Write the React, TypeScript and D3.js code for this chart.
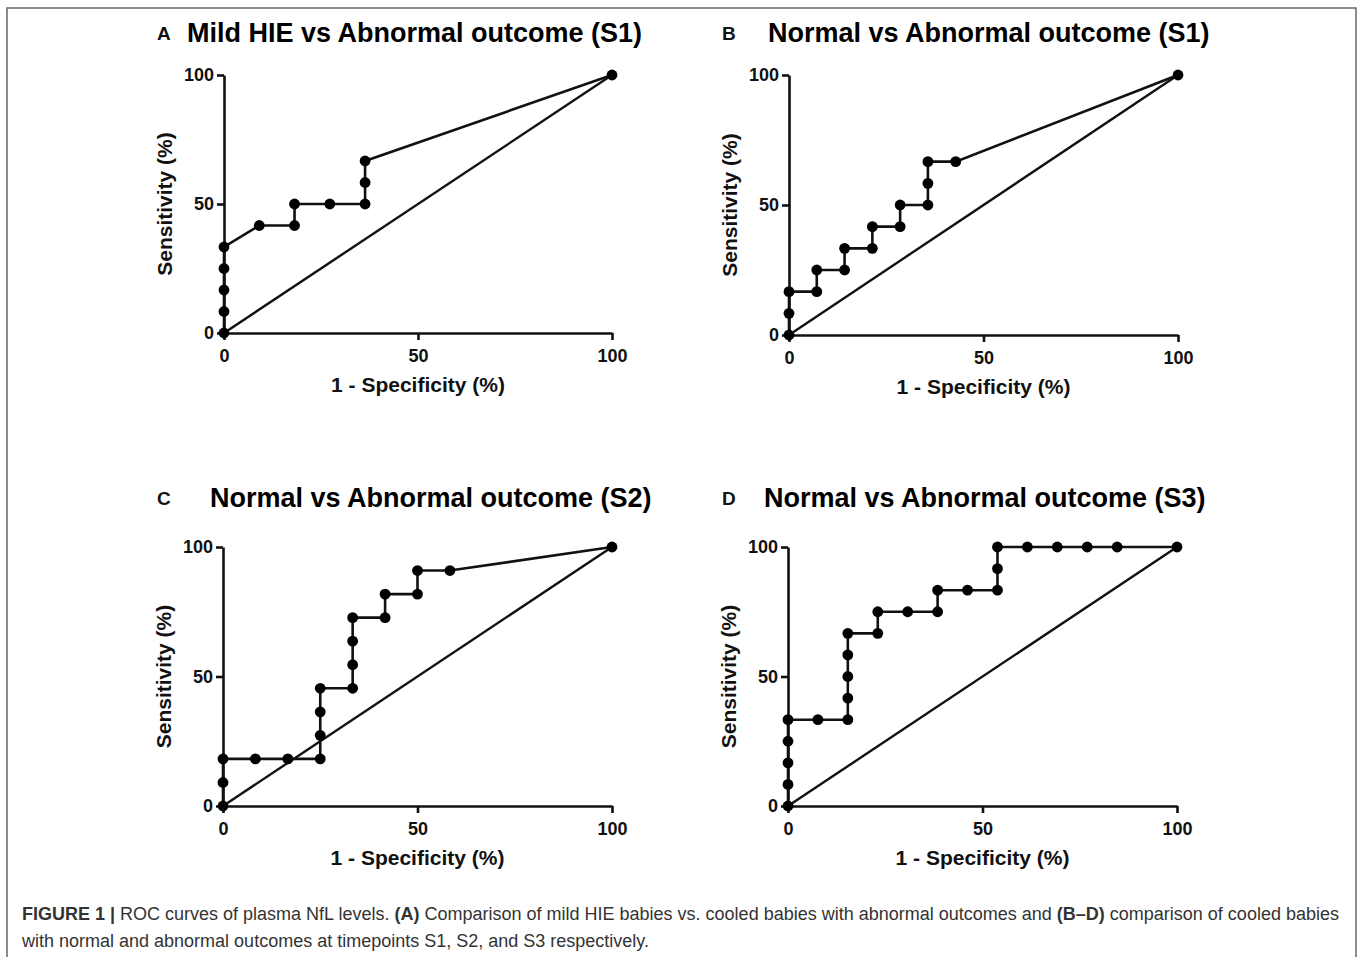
import React, { useRef, useEffect } from "react";
import * as d3 from "d3";

// 1 - specificity (%) and sensitivity (%) for each ROC curve
const fprA = [0, 0, 0, 0, 0, 9.09, 18.18, 18.18, 27.27, 36.36, 36.36, 36.36, 100];
const tprA = [0, 8.33, 16.67, 25, 33.33, 41.67, 41.67, 50, 50, 50, 58.33, 66.67, 100];

const fprB = [0, 0, 0, 7.14, 7.14, 14.29, 14.29, 21.43, 21.43, 28.57, 28.57, 35.71, 35.71, 35.71, 42.86, 100];
const tprB = [0, 8.33, 16.67, 16.67, 25, 25, 33.33, 33.33, 41.67, 41.67, 50, 50, 58.33, 66.67, 66.67, 100];

const fprC = [0, 0, 0, 8.33, 16.67, 25, 25, 25, 25, 33.33, 33.33, 33.33, 33.33, 41.67, 41.67, 50, 50, 58.33, 100];
const tprC = [0, 9.09, 18.18, 18.18, 18.18, 18.18, 27.27, 36.36, 45.45, 45.45, 54.55, 63.64, 72.73, 72.73, 81.82, 81.82, 90.91, 90.91, 100];

const fprD = [0, 0, 0, 0, 0, 7.69, 15.38, 15.38, 15.38, 15.38, 15.38, 23.08, 23.08, 30.77, 38.46, 38.46, 46.15, 53.85, 53.85, 53.85, 61.54, 69.23, 76.92, 84.62, 100];
const tprD = [0, 8.33, 16.67, 25, 33.33, 33.33, 33.33, 41.67, 50, 58.33, 66.67, 66.67, 75, 75, 75, 83.33, 83.33, 83.33, 91.67, 100, 100, 100, 100, 100, 100];

const letters = ["A", "B", "C", "D"];
const titles = [
  "Mild HIE vs Abnormal outcome (S1)",
  "Normal vs Abnormal outcome (S1)",
  "Normal vs Abnormal outcome (S2)",
  "Normal vs Abnormal outcome (S3)",
];
const ticks = [0, 50, 100];

const FONT = "'Liberation Sans', Arial, Helvetica, sans-serif";

// pixel frame of each panel: x of 0 / 100, y of 0 / 100, title placement
const layout = [
  { x0: 224, x1: 612, y0: 333, y1: 75, letterX: 157, titleX: 187, titleY: 42 },
  { x0: 789, x1: 1178, y0: 335, y1: 75, letterX: 722, titleX: 768, titleY: 42 },
  { x0: 223, x1: 612, y0: 806, y1: 547, letterX: 157, titleX: 210, titleY: 507 },
  { x0: 788, x1: 1177, y0: 806, y1: 547, letterX: 722, titleX: 764, titleY: 507 },
];

function RocPanel({ fpr, tpr, letter, title, box }) {
  const xRef = useRef(null);
  const yRef = useRef(null);

  const x = d3.scaleLinear().domain([0, 100]).range([box.x0, box.x1]);
  const y = d3.scaleLinear().domain([0, 100]).range([box.y0, box.y1]);

  const pts = fpr.map((f, i) => [f, tpr[i]]);
  const line = d3
    .line()
    .x((d) => x(d[0]))
    .y((d) => y(d[1]));

  useEffect(() => {
    const gx = d3.select(xRef.current);
    gx.selectAll("*").remove();
    gx.call(d3.axisBottom(x).tickValues(ticks).tickSize(7).tickSizeOuter(0).tickPadding(9));
    const gy = d3.select(yRef.current);
    gy.selectAll("*").remove();
    gy.call(d3.axisLeft(y).tickValues(ticks).tickSize(7).tickSizeOuter(0).tickPadding(3));
    [gx, gy].forEach((g) => {
      g.selectAll("path, line").attr("stroke", "#111").attr("stroke-width", 2.6);
      g.selectAll("text")
        .attr("fill", "#111")
        .style("font-family", FONT)
        .style("font-size", "18px")
        .style("font-weight", "bold");
    });
  });

  return (
    <g>
      <text
        x={box.letterX}
        y={box.titleY - 2}
        fontFamily={FONT}
        fontWeight="bold"
        fontSize={19}
        fill="#111"
      >
        {letter}
      </text>
      <text x={box.titleX} y={box.titleY} fontFamily={FONT} fontWeight="bold" fontSize={27} fill="#000">
        {title}
      </text>
      <g ref={xRef} transform={`translate(0, ${box.y0})`} />
      <g ref={yRef} transform={`translate(${box.x0}, 0)`} />
      <text
        x={(box.x0 + box.x1) / 2}
        y={box.y0 + 59}
        textAnchor="middle"
        fontFamily={FONT}
        fontWeight="bold"
        fontSize={21}
        fill="#111"
      >
        1 - Specificity (%)
      </text>
      <text
        transform={`translate(${box.x0 - 52}, ${(box.y0 + box.y1) / 2}) rotate(-90)`}
        textAnchor="middle"
        fontFamily={FONT}
        fontWeight="bold"
        fontSize={21}
        fill="#111"
      >
        Sensitivity (%)
      </text>
      <line x1={x(0)} y1={y(0)} x2={x(100)} y2={y(100)} stroke="#111" strokeWidth={2.4} />
      <path d={line(pts)} fill="none" stroke="#111" strokeWidth={2.6} />
      {pts.map((d, i) => (
        <circle key={i} cx={x(d[0])} cy={y(d[1])} r={5.4} fill="#000" />
      ))}
    </g>
  );
}

export default function App() {
  const curves = [
    [fprA, tprA],
    [fprB, tprB],
    [fprC, tprC],
    [fprD, tprD],
  ];
  return (
    <svg
      width={1358}
      height={957}
      style={{ position: "absolute", left: 0, top: 0, background: "#fff" }}
    >
      <rect x={0} y={0} width={1358} height={957} fill="#fff" />
      <rect x={7} y={8} width={1349} height={1000} fill="none" stroke="#666" strokeWidth={1.5} />
      {curves.map(([f, t], i) => (
        <RocPanel key={i} fpr={f} tpr={t} letter={letters[i]} title={titles[i]} box={layout[i]} />
      ))}
      <text x={22} y={920} fontFamily={FONT} fontSize={18} fill="#333">
        <tspan fontWeight="bold">FIGURE 1 | </tspan>
        <tspan>ROC curves of plasma NfL levels. </tspan>
        <tspan fontWeight="bold">(A)</tspan>
        <tspan> Comparison of mild HIE babies vs. cooled babies with abnormal outcomes and </tspan>
        <tspan fontWeight="bold">(B–D)</tspan>
        <tspan> comparison of cooled babies</tspan>
      </text>
      <text x={22} y={947} fontFamily={FONT} fontSize={18} fill="#333">
        with normal and abnormal outcomes at timepoints S1, S2, and S3 respectively.
      </text>
    </svg>
  );
}
